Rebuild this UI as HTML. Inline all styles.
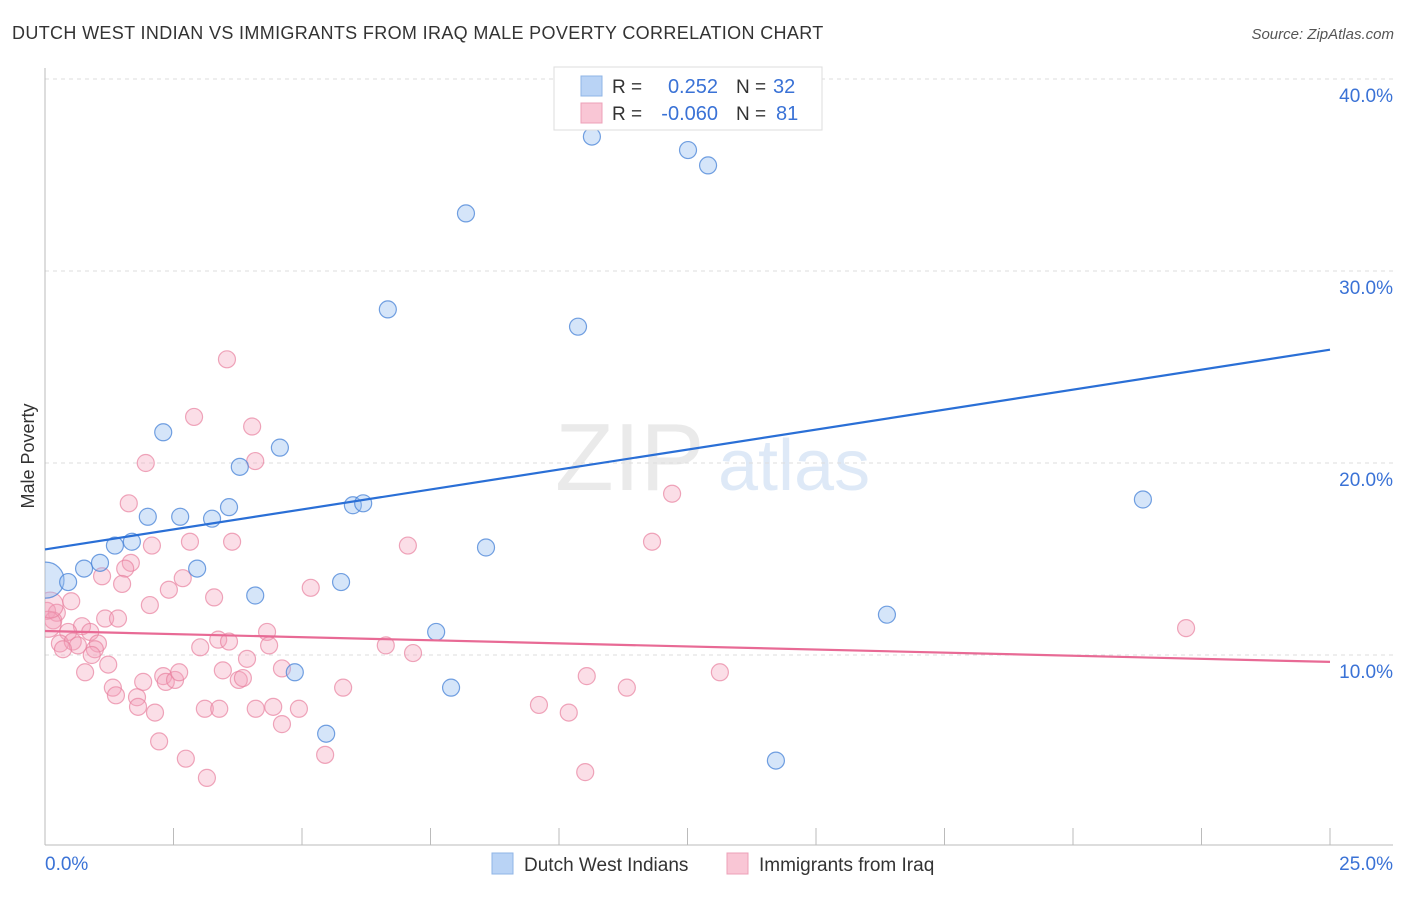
<!DOCTYPE html>
<html><head><meta charset="utf-8"><style>
body{margin:0;background:#fff;font-family:"Liberation Sans",sans-serif;}
svg text{font-family:"Liberation Sans",sans-serif;}
</style></head><body>
<svg id="chart" width="1406" height="892">
<defs><clipPath id="plotclip"><rect x="45" y="60" width="1360" height="785"/></clipPath></defs>
<text x="12" y="39" font-size="18" fill="#333" letter-spacing="0.35">DUTCH WEST INDIAN VS IMMIGRANTS FROM IRAQ MALE POVERTY CORRELATION CHART</text>
<text x="1394" y="39" font-size="15" fill="#555" text-anchor="end" font-style="italic">Source: ZipAtlas.com</text>
<g><text x="555" y="490" font-size="96" fill="#ddd" font-family="Liberation Serif" opacity="0.6">ZIP</text><text x="718" y="490" font-size="72" fill="#c9dcf2" opacity="0.6">atlas</text></g>
<g id="grid"></g><g id="axes"></g><g id="pts" clip-path="url(#plotclip)"></g><g id="lines"></g>
<text transform="translate(34,456) rotate(-90)" font-size="18" fill="#333" text-anchor="middle">Male Poverty</text>
<g>
<rect x="554" y="67" width="268" height="63" fill="#fff" stroke="#ddd"/>
<rect x="581" y="76" width="21" height="20" fill="#b9d3f5" stroke="#8fb4e6"/>
<rect x="581" y="103" width="21" height="20" fill="#f9c6d5" stroke="#eda0b8"/>
<text x="612" y="93" font-size="19" fill="#333">R =</text><text x="718" y="93" font-size="20" fill="#3a72d6" text-anchor="end">0.252</text>
<text x="736" y="93" font-size="19" fill="#333">N =</text><text x="773" y="93" font-size="20" fill="#3a72d6">32</text>
<text x="612" y="120" font-size="19" fill="#333">R =</text><text x="718" y="120" font-size="20" fill="#3a72d6" text-anchor="end">-0.060</text>
<text x="736" y="120" font-size="19" fill="#333">N =</text><text x="776" y="120" font-size="20" fill="#3a72d6">81</text>
</g>
<g>
<rect x="492" y="853" width="21" height="21" fill="#b9d3f5" stroke="#8fb4e6"/>
<text x="524" y="871" font-size="19" fill="#333">Dutch West Indians</text>
<rect x="727" y="853" width="21" height="21" fill="#f9c6d5" stroke="#eda0b8"/>
<text x="759" y="871" font-size="19" fill="#333">Immigrants from Iraq</text>
</g>
</svg>
<script>
const yTicks=[10,20,30,40];
const yTickLabels=["10.0%","20.0%","30.0%","40.0%"];
const xEndLabels=["0.0%","25.0%"];
const blueX=[0.02,0.45,0.76,1.07,1.36,1.69,2.00,2.30,2.63,2.96,3.25,3.58,3.79,4.09,4.57,4.86,5.47,5.76,5.99,6.19,6.67,7.61,7.90,8.19,8.58,10.37,10.64,12.51,12.90,14.22,16.38,21.36];
const blueY=[13.9,13.8,14.5,14.8,15.7,15.9,17.2,21.6,17.2,14.5,17.1,17.7,19.8,13.1,20.8,9.1,5.9,13.8,17.8,17.9,28.0,11.2,8.3,33.0,15.6,27.1,37.0,36.3,35.5,4.5,12.1,18.1];
const pinkX=[1.63,2.08,2.82,3.64,1.67,1.56,1.11,1.50,2.68,2.41,3.29,5.17,2.04,0.51,0.04,0.23,0.16,1.17,1.42,0.72,0.88,0.45,0.29,0.54,0.64,0.35,1.03,0.97,0.91,1.23,0.78,3.02,3.37,3.58,4.32,4.36,3.93,3.46,3.77,3.85,4.61,5.80,1.32,1.38,1.91,2.30,2.35,2.53,2.61,1.79,1.81,2.14,3.11,3.39,4.10,4.44,4.94,4.61,2.22,5.45,2.74,3.15,3.54,2.90,4.03,4.09,1.96,7.06,11.81,12.20,6.63,7.16,10.54,11.32,9.61,10.19,10.51,13.13,22.20,0.06,0.10];
const pinkY=[17.9,15.7,15.9,15.9,14.8,14.5,14.1,13.7,14.0,13.4,13.0,13.5,12.6,12.8,12.3,12.2,11.8,11.9,11.9,11.5,11.2,11.2,10.6,10.7,10.5,10.3,10.6,10.3,10.0,9.5,9.1,10.4,10.8,10.7,11.2,10.5,9.8,9.2,8.7,8.8,9.3,8.3,8.3,7.9,8.6,8.9,8.6,8.7,9.1,7.8,7.3,7.0,7.2,7.2,7.2,7.3,7.2,6.4,5.5,4.8,4.6,3.6,25.4,22.4,21.9,20.1,20.0,15.7,15.9,18.4,10.5,10.1,8.9,8.3,7.4,7.0,3.9,9.1,11.4,11.6,12.6];
const blueTrend=[15.5,25.9];
const pinkTrend=[11.25,9.64];
const xDomain=[0,25];
const NS="http://www.w3.org/2000/svg";
function sx(v){return 45+(v-xDomain[0])/(xDomain[1]-xDomain[0])*1285;}
function sy(v){return 847-v*19.2;}
function mk(tag,attrs,parent){const e=document.createElementNS(NS,tag);for(const k in attrs)e.setAttribute(k,attrs[k]);document.getElementById(parent).appendChild(e);return e;}
yTicks.forEach((t,i)=>{
 const l=mk('line',{x1:45,x2:1393,y1:sy(t),y2:sy(t),stroke:'#ddd','stroke-dasharray':'4,4'},'grid');
 
 
 const tx=mk('text',{x:1393,y:sy(t)+23,'font-size':19,fill:'#3a72d6','text-anchor':'end'},'grid');
 tx.textContent=yTickLabels[i];
 
 
});
const ax=mk('line',{x1:45,x2:45,y1:68,y2:845,stroke:'#bbb'},'axes');


const bx=mk('line',{x1:45,x2:1393,y1:845,y2:845,stroke:'#bbb'},'axes');


for(let i=1;i<=10;i++){
 const t=mk('line',{x1:sx(i*2.5),x2:sx(i*2.5),y1:828,y2:845,stroke:'#bbb'},'axes');
 
 
}
const xl0=mk('text',{x:45,y:870,'font-size':19,fill:'#3a72d6'},'axes');xl0.textContent=xEndLabels[0];


const xl1=mk('text',{x:1393,y:870,'font-size':19,fill:'#3a72d6','text-anchor':'end'},'axes');xl1.textContent=xEndLabels[1];


pinkX.forEach((x,i)=>{
 const r=(i>=79)?13:8.5;
 const c=mk('circle',{cx:sx(x),cy:sy(pinkY[i]),r:r,fill:'rgba(244,160,185,0.35)',stroke:'rgba(232,130,160,0.7)','stroke-width':1.2},'pts');
 
 
});
blueX.forEach((x,i)=>{
 const r=i===0?18:8.5;
 const c=mk('circle',{cx:sx(x),cy:sy(blueY[i]),r:r,fill:'rgba(150,190,240,0.4)',stroke:'rgba(70,130,215,0.75)','stroke-width':1.2},'pts');
 
 
});
const bl=mk('line',{x1:sx(xDomain[0]),y1:sy(blueTrend[0]),x2:sx(xDomain[1]),y2:sy(blueTrend[1]),stroke:'#2a6fd6','stroke-width':2.2},'lines');


const pl=mk('line',{x1:sx(xDomain[0]),y1:sy(pinkTrend[0]),x2:sx(xDomain[1]),y2:sy(pinkTrend[1]),stroke:'#e86a95','stroke-width':2.2},'lines');


</script>
</body></html>
